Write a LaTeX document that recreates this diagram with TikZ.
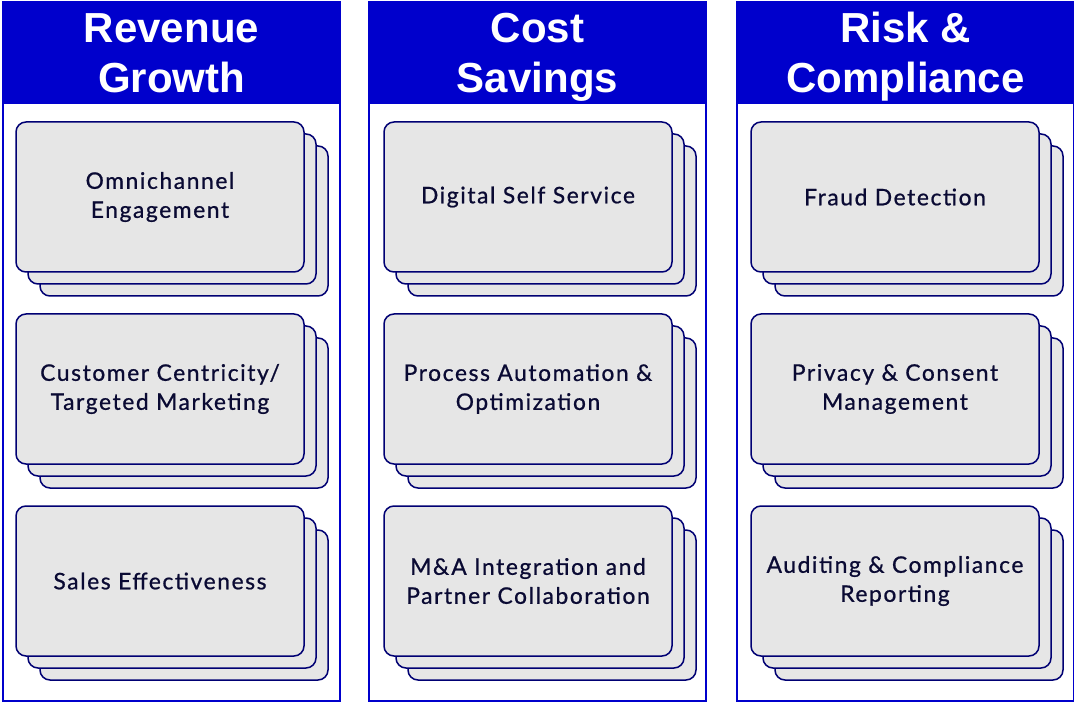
\documentclass[tikz,border=0pt]{standalone}
\usepackage{fontspec}
\setmainfont{Lato}[LetterSpace=7,FakeBold=0.8]
\newfontfamily\hdrfont{Liberation Sans}[BoldFont={* Bold}]
\definecolor{hdrblue}{HTML}{0000CC}
\definecolor{cardline}{HTML}{000073}
\definecolor{cardfill}{HTML}{E6E6E6}
\definecolor{cardtext}{HTML}{0A0A33}
\tikzset{
  colbox/.style={draw=hdrblue, line width=1.6pt, fill=white},
  hdrfill/.style={fill=hdrblue},
  hdrtext/.style={text=white, font=\hdrfont\fontsize{42}{50}\selectfont\bfseries, align=center, inner sep=0pt, anchor=base},
  cardbox/.style={draw=cardline, fill=cardfill, line width=1.5pt, rounded corners=10pt,
    minimum width=288pt, minimum height=150pt, inner sep=0pt},
  cardlabel/.style={cardbox, text=cardtext, font=\fontsize{22.8}{29}\selectfont, align=center},
}
\newcommand{\mystack}[4]{%
  \node[cardbox] (#1-3) at (#2+24,#3+24) {};
  \node[cardbox] (#1-2) at (#2+12,#3+12) {};
  \node[cardlabel] (#1) at (#2,#3) {#4};
}
\begin{document}
\begin{tikzpicture}[x=1pt,y=-1pt]
\useasboundingbox (0,0) rectangle (1074,703);
% columns
\foreach \x in {3,369,737}{
  \draw[colbox] (\x,2) rectangle (\x+337,701);
  \fill[hdrfill] (\x-0.8,1.2) rectangle (\x+337.8,104);
}
\node[hdrtext] (h1) at (171.5,93) {Revenue\\Growth};
\node[hdrtext] (h2) at (537.5,93) {Cost\\Savings};
\node[hdrtext] (h3) at (905.5,93) {Risk \&\\Compliance};
% cards
\mystack{a1}{160}{197}{Omnichannel\\Engagement}
\mystack{a2}{160}{389}{Customer Centricity/\\Targeted Marketing}
\mystack{a3}{160}{581}{Sales Effectiveness}
\mystack{b1}{528}{197}{Digital Self Service}
\mystack{b2}{528}{389}{Process Automation \&\\Optimization}
\mystack{b3}{528}{581}{M\&A Integration and\\Partner Collaboration}
\mystack{c1}{895}{197}{Fraud Detection}
\mystack{c2}{895}{389}{Privacy \& Consent\\Management}
\mystack{c3}{895}{581}{Auditing \& Compliance\\Reporting}
\end{tikzpicture}
\end{document}
